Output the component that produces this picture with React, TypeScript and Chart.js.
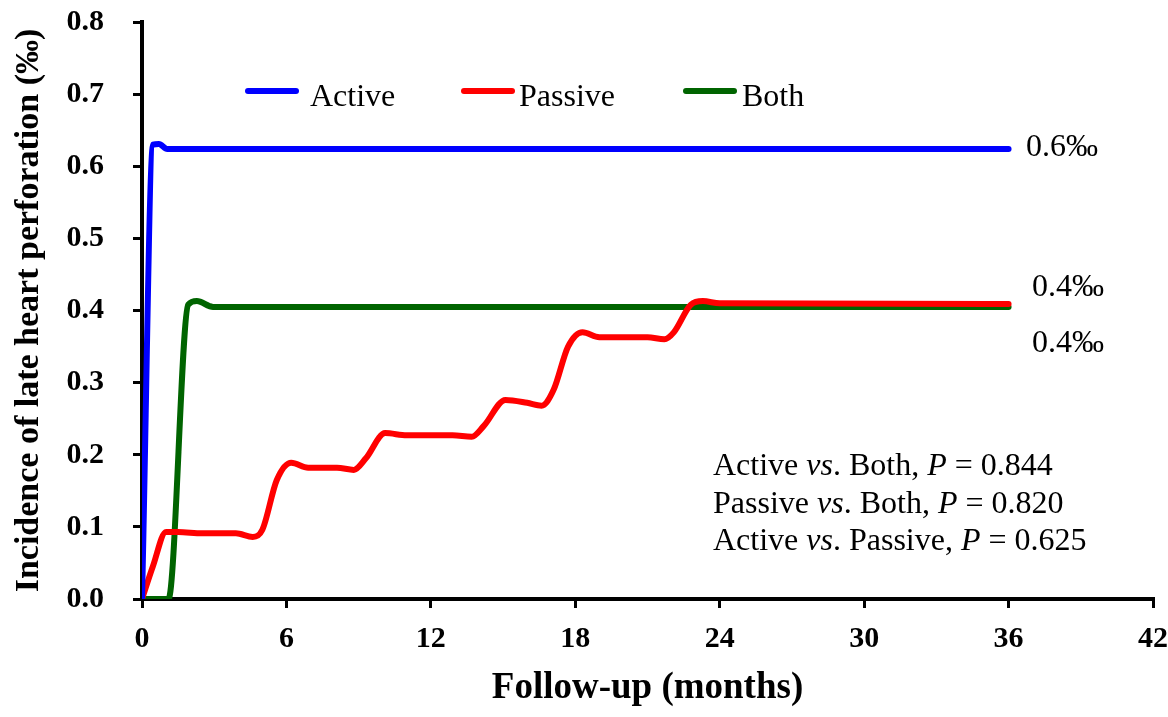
import React, { useEffect, useRef } from "react";
import { Chart, registerables } from "chart.js";

Chart.register(...registerables);

// ---- data ----
const xTicks = [0, 6, 12, 18, 24, 30, 36, 42];
const yTicks = [0, 0.1, 0.2, 0.3, 0.4, 0.5, 0.6, 0.7, 0.8];

const activeX = [0, 0.46, 0.7, 1.05, 36];
const activeY = [0, 0.63, 0.631, 0.624, 0.624];

const passiveX = [0, 0.45, 1.0, 1.5, 2.5, 3.9, 4.6, 5.0, 5.6, 6.2, 6.9, 8.1, 8.8, 9.3, 10.1, 11.0, 12.9, 13.7, 14.2, 15.1, 16.0, 16.6, 17.1, 17.7, 18.3, 19.0, 21.0, 21.7, 22.1, 22.8, 23.3, 24.0, 36];
const passiveY = [0, 0.045, 0.093, 0.093, 0.091, 0.091, 0.086, 0.096, 0.165, 0.189, 0.182, 0.182, 0.179, 0.195, 0.23, 0.227, 0.227, 0.225, 0.24, 0.276, 0.272, 0.268, 0.29, 0.35, 0.37, 0.363, 0.363, 0.36, 0.37, 0.408, 0.413, 0.41, 0.409];

const bothX = [0, 1.1, 1.92, 2.28, 2.95, 36];
const bothY = [0, 0, 0.408, 0.413, 0.405, 0.405];

const seriesNames = ["Active", "Passive", "Both"];
const seriesColors = ["#0000FF", "#FF0000", "#006400"];

const endLabels = ["0.6\u2030", "0.4\u2030", "0.4\u2030"];

const compareA = ["Active", "Passive", "Active"];
const compareB = ["Both", "Both", "Passive"];
const pValues = ["0.844", "0.820", "0.625"];

const xTitle = "Follow-up (months)";
const yTitle = "Incidence of late heart perforation (\u2030)";

const SERIF = "'Liberation Serif', 'Times New Roman', serif";

const toPoints = (xs: number[], ys: number[]) => xs.map((x, i) => ({ x, y: ys[i] }));

const overlayPlugin = {
  id: "overlay",
  afterDraw(chart: any) {
    const ctx = chart.ctx;
    ctx.save();
    // legend
    const legendLineX = [248, 464, 686];
    const legendTextX = [310, 519, 742];
    ctx.lineCap = "round";
    ctx.lineWidth = 6;
    ctx.font = `32px ${SERIF}`;
    ctx.textBaseline = "alphabetic";
    ctx.textAlign = "left";
    seriesNames.forEach((name, i) => {
      ctx.strokeStyle = seriesColors[i];
      ctx.beginPath();
      ctx.moveTo(legendLineX[i], 91);
      ctx.lineTo(legendLineX[i] + 48, 91);
      ctx.stroke();
      ctx.fillStyle = "#000";
      ctx.fillText(name, legendTextX[i], 106);
    });
    // end labels
    const endPos = [
      [1026, 156],
      [1032, 296],
      [1032, 352],
    ];
    ctx.font = `32px ${SERIF}`;
    endLabels.forEach((t, i) => ctx.fillText(t, endPos[i][0], endPos[i][1]));
    // stats text
    const statY = [475, 513, 550];
    const normal = `32px ${SERIF}`;
    const italic = `italic 32px ${SERIF}`;
    compareA.forEach((a, i) => {
      const segs: [string, boolean][] = [
        [a + " ", false],
        ["vs", true],
        [". " + compareB[i] + ", ", false],
        ["P", true],
        [" = " + pValues[i], false],
      ];
      let x = 713;
      segs.forEach(([t, it]) => {
        ctx.font = it ? italic : normal;
        ctx.fillText(t, x, statY[i]);
        x += ctx.measureText(t).width;
      });
    });
    ctx.restore();
  },
};

export default function App() {
  const ref = useRef<HTMLCanvasElement | null>(null);
  useEffect(() => {
    if (!ref.current) return;
    const datasets = [
      toPoints(activeX, activeY),
      toPoints(passiveX, passiveY),
      toPoints(bothX, bothY),
    ].map((data, i) => ({
      label: seriesNames[i],
      data,
      borderColor: seriesColors[i],
      backgroundColor: seriesColors[i],
      borderWidth: 6,
      pointRadius: 0,
      fill: false,
      cubicInterpolationMode: "monotone" as const,
      borderCapStyle: "round" as const,
      borderJoinStyle: "round" as const,
    }));
    const chart = new Chart(ref.current, {
      type: "line",
      data: { datasets },
      options: {
        animation: false,
        responsive: false,
        devicePixelRatio: 1,
        layout: { padding: { top: 22, right: 15, left: 0, bottom: 0 } },
        plugins: { legend: { display: false }, tooltip: { enabled: false } },
        scales: {
          x: {
            type: "linear",
            min: 0,
            max: 42,
            afterBuildTicks: (s: any) => {
              s.ticks = xTicks.map((v) => ({ value: v }));
            },
            afterFit: (s: any) => {
              s.height = 118;
              s.paddingLeft = 0;
              s.paddingRight = 0;
              s.paddingTop = 0;
              s.paddingBottom = 0;
            },
            ticks: {
              color: "#000",
              font: { family: SERIF, size: 30, weight: "bold" },
              padding: 13,
              maxRotation: 0,
              autoSkip: false,
            },
            grid: { drawOnChartArea: false, drawTicks: true, tickLength: 9, color: "#000", lineWidth: 3 },
            border: { display: true, color: "#000", width: 4 },
            title: {
              display: true,
              text: xTitle,
              color: "#000",
              font: { family: SERIF, size: 37, weight: "bold" },
              padding: { top: 0, bottom: 6 },
            },
          },
          y: {
            type: "linear",
            min: 0,
            max: 0.8,
            afterBuildTicks: (s: any) => {
              s.ticks = yTicks.map((v) => ({ value: v }));
            },
            afterFit: (s: any) => {
              s.width = 142;
              s.paddingLeft = 0;
              s.paddingRight = 0;
              s.paddingTop = 0;
              s.paddingBottom = 0;
            },
            ticks: {
              color: "#000",
              font: { family: SERIF, size: 30, weight: "bold" },
              padding: 29,
              callback: (v: any) => Number(v).toFixed(1),
            },
            grid: { drawOnChartArea: false, drawTicks: true, tickLength: 9, color: "#000", lineWidth: 3 },
            border: { display: true, color: "#000", width: 4 },
            title: {
              display: true,
              text: yTitle,
              color: "#000",
              font: { family: SERIF, size: 34, weight: "bold" },
              padding: { top: 9, bottom: 0 },
            },
          },
        },
      },
      plugins: [overlayPlugin],
    });
    return () => chart.destroy();
  }, []);
  return (
    <div style={{ position: "absolute", left: 0, top: 0, width: 1168, height: 717, background: "#fff" }}>
      <canvas ref={ref} width={1168} height={717} style={{ width: 1168, height: 717 }} />
    </div>
  );
}
